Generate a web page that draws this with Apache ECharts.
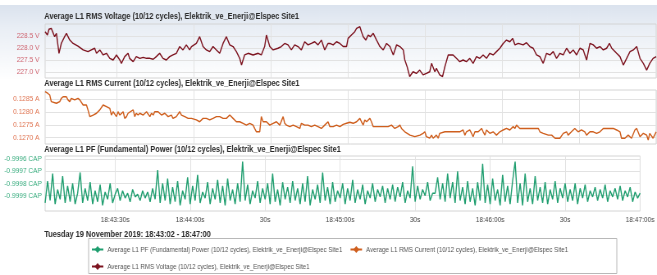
<!DOCTYPE html>
<html><head><meta charset="utf-8">
<script src="https://cdn.jsdelivr.net/npm/echarts@6/dist/echarts.min.js"></script>
<style>
html,body{margin:0;padding:0;background:#fff;overflow:hidden;width:657px;height:275px}
#c{width:801px;height:275px;transform:scaleX(0.8202);transform-origin:0 0}
</style>
</head><body><div id="c"></div>
<script>
// ---- DATA ----
const panelTitles = [
  'Average L1 RMS Voltage (10/12 cycles), Elektrik_ve_Enerji@Elspec Site1',
  'Average L1 RMS Current (10/12 cycles), Elektrik_ve_Enerji@Elspec Site1',
  'Average L1 PF (Fundamental) Power (10/12 cycles), Elektrik_ve_Enerji@Elspec Site1'
];
const dateText = 'Tuesday 19 November 2019: 18:43:02 - 18:47:00';
// seconds after 18:43:02
const timeTickSec = [28, 58, 88, 118, 148, 178, 208, 238];
const timeTickLabels = ['18:43:30s', '18:44:00s', '30s', '18:45:00s', '30s', '18:46:00s', '30s', '18:47:00s'];
const voltageTicks = [227.0, 227.5, 228.0, 228.5];
const currentTicks = [0.1270, 0.1275, 0.1280, 0.1285];
const pfTicks = [-0.9999, -0.9998, -0.9997, -0.9996];

const voltage = [[0,228.68],[0.9,228.54],[1.5,228.78],[2.4,228.82],[3.7,228.47],[4.4,228.61],[5.4,227.78],[6.3,228.19],[7.6,228.47],[8.3,228.61],[9.6,228.33],[10.9,228.19],[12.8,228.08],[14.8,227.92],[16.7,227.85],[18.0,227.92],[19.3,227.99],[20.0,227.78],[21.3,227.92],[22.6,227.71],[23.9,227.78],[25.2,227.57],[26.5,227.50],[27.8,227.71],[29.1,227.50],[29.7,227.36],[31.0,227.64],[32.3,227.78],[32.9,227.57],[34.3,227.43],[35.5,227.64],[36.9,227.57],[38.2,227.61],[39.5,227.57],[40.8,227.57],[42.1,227.53],[43.3,227.64],[44.6,227.78],[45.9,227.57],[47.2,227.50],[48.5,227.64],[49.8,227.71],[51.1,227.78],[52.4,228.06],[53.7,227.92],[55.0,228.13],[56.3,227.92],[57.0,228.06],[58.9,228.19],[60.2,228.47],[61.5,228.06],[62.8,227.92],[64.1,227.85],[65.4,228.06],[66.7,227.92],[68.0,227.78],[69.3,228.19],[70.6,228.47],[71.9,228.13],[73.2,228.06],[74.5,227.85],[75.8,227.57],[76.5,227.29],[77.7,227.71],[79.1,227.78],[81.0,227.71],[83.0,227.78],[84.2,227.71],[85.5,228.06],[86.2,228.54],[87.5,228.06],[88.8,227.92],[90.7,227.99],[92.0,228.06],[93.3,228.19],[94.6,228.13],[95.9,227.92],[97.2,228.13],[98.5,228.06],[99.8,227.92],[101.1,228.26],[102.4,228.13],[103.7,228.19],[105.0,228.26],[106.3,228.13],[107.6,228.33],[108.9,227.92],[110.2,228.19],
[110.9,228.19],[112.2,228.13],[113.5,228.26],[114.8,228.19],[116.1,228.06],[117.4,228.06],[118.0,228.40],[119.3,228.54],[120.6,228.68],[121.3,228.82],[121.9,228.75],[122.6,228.89],[123.2,228.68],[123.9,228.47],[124.9,228.33],[125.8,228.54],[126.7,228.47],[127.8,228.61],[129.1,228.33],[130.4,228.06],[131.7,227.92],[133.0,228.19],[134.3,228.06],[135.6,227.71],[136.9,228.13],[138.2,228.06],[139.5,227.92],[140.1,227.50],[141.0,227.22],[142.0,226.81],[143.3,227.01],[144.6,226.94],[145.9,227.08],[147.2,226.88],[148.5,226.94],[149.8,227.01],[150.5,227.36],[151.8,227.01],[152.4,227.15],[153.7,226.88],[154.8,226.81],[155.7,227.22],[157.0,227.71],[157.6,227.78],[158.9,227.71],[160.2,227.57],[161.5,227.43],[162.8,227.50],[164.1,227.43],[165.4,227.57],[166.7,227.36],[168.0,227.64],[169.3,227.57],[170.6,227.71],[171.9,227.57],[173.2,227.78],[174.5,227.71],[175.8,227.85],[177.1,227.99],[178.4,228.19],[179.7,228.33],[181.0,228.26],[182.1,228.40],[183.0,228.13],[184.3,228.19],[186.2,228.13],[187.5,228.22],[188.8,228.06],[190.1,227.99],[191.4,227.71],[192.7,227.64],[194.0,227.36],[195.3,227.78],[196.6,227.71],[197.9,227.85],[199.2,227.57],[200.5,227.78],[201.8,227.71],[203.1,227.99],[204.4,227.78],[205.7,227.92],[207.0,227.71],[208.3,227.99],[209.6,227.92],[210.9,227.50],[212.2,228.19],[213.5,228.13],[214.8,227.99],[216.1,228.06],[217.4,227.92],[218.7,227.99],[219.8,228.19],[220.7,227.99],[222.6,227.78],[223.9,227.64],[225.2,227.29],[226.5,227.57],[227.8,227.85],[229.1,227.92],[230.4,228.06],[231.7,227.57],[233.0,227.36],[234.3,227.08],[235.5,227.36],[236.8,227.57],[238.0,227.64]];

const current = [[0,0.12879],[1.1,0.12872],[1.8,0.12866],[2.4,0.12840],[4.4,0.12834],[5.7,0.12840],[6.3,0.12853],[7.0,0.12859],[8.3,0.12859],[8.9,0.12847],[9.6,0.12840],[10.2,0.12853],[11.5,0.12847],[12.8,0.12853],[13.5,0.12847],[14.8,0.12827],[16.1,0.12827],[16.7,0.12808],[17.4,0.12782],[18.0,0.12788],[18.7,0.12788],[20.0,0.12795],[20.6,0.12801],[21.3,0.12808],[21.9,0.12814],[22.6,0.12827],[23.9,0.12821],[25.2,0.12814],[25.8,0.12788],[26.5,0.12801],[27.1,0.12795],[27.8,0.12782],[28.4,0.12801],[29.1,0.12788],[29.7,0.12795],[30.4,0.12801],[31.0,0.12775],[31.7,0.12782],[32.3,0.12795],[32.9,0.12788],[34.3,0.12808],[34.9,0.12782],[35.5,0.12795],[36.2,0.12788],[36.9,0.12795],[38.2,0.12788],[39.5,0.12801],[40.8,0.12782],[41.4,0.12795],[42.1,0.12788],[42.7,0.12801],[44.0,0.12801],[45.3,0.12788],[45.9,0.12782],[46.6,0.12795],[47.9,0.12782],[49.2,0.12788],[49.8,0.12775],[51.1,0.12782],[52.4,0.12801],[53.1,0.12788],[54.4,0.12782],[55.7,0.12775],[57.0,0.12775],[58.9,0.12769],[60.2,0.12762],[61.5,0.12775],[62.8,0.12775],[64.1,0.12769],[65.4,0.12775],[66.7,0.12782],[68.0,0.12782],[69.3,0.12775],[70.6,0.12775],[71.9,0.12788],[73.2,0.12775],[74.5,0.12762],[75.8,0.12762],[77.1,0.12756],[78.4,0.12749],[79.7,0.12756],[81.0,0.12749],[81.6,0.12736],[82.3,0.12723],[83.6,0.12723],[84.2,0.12782],[84.9,0.12762],[86.2,0.12762],[87.5,0.12749],[88.8,0.12756],[90.1,0.12762],[91.4,0.12749],[92.7,0.12782],[93.3,0.12756],[94.0,0.12749],[95.3,0.12743],[96.6,0.12749],[97.9,0.12743],[99.2,0.12736],[99.8,0.12756],[101.1,0.12749],[102.4,0.12749],[103.7,0.12743],[105.0,0.12749],[106.3,0.12743],[107.6,0.12736],[108.9,0.12749],[110.2,0.12762],
[110.9,0.12743],[112.2,0.12743],[113.5,0.12749],[114.8,0.12743],[116.1,0.12752],[117.4,0.12756],[118.7,0.12760],[120.0,0.12756],[121.3,0.12762],[122.6,0.12775],[123.2,0.12762],[123.9,0.12749],[124.5,0.12769],[125.2,0.12762],[126.5,0.12775],[127.1,0.12762],[127.8,0.12743],[129.7,0.12743],[131.7,0.12743],[133.6,0.12743],[134.9,0.12749],[136.2,0.12736],[137.5,0.12743],[138.2,0.12749],[138.8,0.12736],[140.1,0.12723],[142.1,0.12710],[144.0,0.12704],[146.0,0.12710],[147.2,0.12717],[147.9,0.12723],[148.5,0.12704],[149.8,0.12698],[150.5,0.12710],[151.1,0.12698],[152.4,0.12710],[153.1,0.12698],[153.7,0.12717],[155.7,0.12723],[157.6,0.12723],[159.6,0.12723],[161.5,0.12723],[162.8,0.12730],[163.5,0.12710],[164.1,0.12723],[165.4,0.12730],[166.1,0.12717],[166.7,0.12704],[167.4,0.12723],[168.7,0.12723],[170.0,0.12736],[170.6,0.12723],[171.3,0.12710],[171.9,0.12730],[173.2,0.12717],[174.5,0.12723],[175.8,0.12710],[177.1,0.12723],[178.4,0.12730],[179.7,0.12736],[181.0,0.12730],[182.3,0.12743],[183.0,0.12736],[183.6,0.12749],[184.9,0.12736],[187.5,0.12736],[190.1,0.12736],[192.1,0.12736],[192.7,0.12723],[194.0,0.12717],[196.0,0.12710],[197.3,0.12710],[198.6,0.12698],[199.2,0.12691],[200.5,0.12698],[201.8,0.12717],[203.1,0.12723],[203.7,0.12710],[205.0,0.12723],[206.3,0.12736],[207.6,0.12723],[208.9,0.12730],[210.2,0.12723],[210.9,0.12710],[212.2,0.12723],[213.5,0.12723],[214.8,0.12717],[216.1,0.12723],[217.4,0.12736],[218.0,0.12743],[219.3,0.12736],[221.3,0.12736],[222.6,0.12730],[223.9,0.12723],[224.5,0.12698],[225.8,0.12698],[227.1,0.12710],[228.4,0.12698],[229.7,0.12730],[230.4,0.12736],[231.7,0.12704],[233.0,0.12717],[234.3,0.12710],[234.9,0.12691],[235.5,0.12717],[236.8,0.12698],[238.0,0.12723]];

// power factor, one reading per second from 18:43:02
const pfStepSec = 1;
const pfValues = [
-0.99996,-0.99978,-0.99994,-0.99972,-0.99997,-0.99985,-0.99993,-0.99974,-0.99996,-0.99982,
-0.99995,-0.99980,-0.99997,-0.99988,-0.99971,-0.99996,-0.99984,-0.99994,-0.99979,-0.99997,
-0.99986,-0.99995,-0.99981,-0.99998,-0.99987,-0.99993,-0.99980,-0.99996,-0.99989,-0.99984,
-0.99994,-0.99986,-0.99992,-0.99988,-0.99995,-0.99985,-0.99991,-0.99989,-0.99994,-0.99986,
-0.99992,-0.99987,-0.99995,-0.99984,-0.99993,-0.99969,-0.99996,-0.99980,-0.99994,-0.99976,
-0.99997,-0.99983,-0.99995,-0.99978,-0.99998,-0.99986,-0.99993,-0.99975,-0.99997,-0.99982,
-0.99994,-0.99973,-0.99996,-0.99987,-0.99992,-0.99979,-0.99997,-0.99984,-0.99993,-0.99977,
-0.99996,-0.99982,-0.99998,-0.99976,-0.99994,-0.99985,-0.99997,-0.99980,-0.99995,-0.99962,
-0.99994,-0.99981,-0.99997,-0.99986,-0.99992,-0.99978,-0.99996,-0.99984,-0.99993,-0.99980,
-0.99997,-0.99972,-0.99995,-0.99985,-0.99998,-0.99979,-0.99993,-0.99983,-0.99996,-0.99978,
-0.99994,-0.99984,-0.99997,-0.99980,-0.99995,-0.99974,-0.99998,-0.99985,-0.99993,-0.99981,
-0.99996,-0.99971,-0.99994,-0.99983,-0.99997,-0.99979,-0.99995,-0.99986,-0.99992,-0.99980,
-0.99997,-0.99984,-0.99994,-0.99977,-0.99996,-0.99985,-0.99993,-0.99981,-0.99997,-0.99986,
-0.99992,-0.99980,-0.99995,-0.99985,-0.99991,-0.99982,-0.99996,-0.99984,-0.99993,-0.99981,
-0.99995,-0.99983,-0.99991,-0.99979,-0.99996,-0.99986,-0.99992,-0.99966,-0.99995,-0.99982,
-0.99993,-0.99985,-0.99990,-0.99979,-0.99994,-0.99988,-0.99988,-0.99975,-0.99993,-0.99980,
-0.99995,-0.99972,-0.99992,-0.99979,-0.99996,-0.99970,-0.99994,-0.99983,-0.99997,-0.99978,
-0.99995,-0.99984,-0.99998,-0.99979,-0.99994,-0.99964,-0.99996,-0.99981,-0.99997,-0.99976,
-0.99994,-0.99985,-0.99998,-0.99973,-0.99995,-0.99982,-0.99997,-0.99978,-0.99962,-0.99996,
-0.99980,-0.99998,-0.99972,-0.99995,-0.99984,-0.99997,-0.99974,-0.99994,-0.99983,-0.99996,
-0.99979,-0.99997,-0.99985,-0.99993,-0.99978,-0.99996,-0.99984,-0.99992,-0.99980,-0.99995,
-0.99985,-0.99994,-0.99980,-0.99997,-0.99984,-0.99992,-0.99981,-0.99995,-0.99986,-0.99991,
-0.99983,-0.99994,-0.99985,-0.99992,-0.99981,-0.99995,-0.99986,-0.99991,-0.99984,-0.99993,
-0.99982,-0.99994,-0.99986,-0.99991,-0.99983,-0.99995,-0.99987,-0.99992,-0.99988
];

// ---- CHART ----
// The chart is laid out on an 801px-wide canvas that CSS compresses horizontally to 657px.
const F = "'Liberation Sans',Arial,sans-serif";
const colors = ['#7d1420', '#cf5f1e', '#1f9e6f'];
const labelColors = ['#cf6470', '#e07552', '#3bae80'];
const seriesNames = panelTitles;
const pfData = pfValues.map((v, i) => [i * pfStepSec, v]);
const seriesData = [voltage, current, pfData];
const yTicks = [voltageTicks, currentTicks, pfTicks];
const yRanges = [[226.75, 229.0], [0.126755, 0.128854], [-1.000026, -0.999575]];
const yFmt = [v => v.toFixed(1) + ' V', v => v.toFixed(4) + ' A', v => v.toFixed(4) + ' CAP'];
const gridBoxes = [{top: 24, height: 54}, {top: 90, height: 54}, {top: 156, height: 55}];
const titleTops = [12.5, 79, 145.5];

const chart = echarts.init(document.getElementById('c'));
const option = {
  animation: false,
  backgroundColor: '#fff',
  graphic: [
    {type: 'rect', z: -10, shape: {x: 0, y: 5, width: 801, height: 75},
     style: {fill: new echarts.graphic.LinearGradient(0, 0, 0, 1, [
       {offset: 0, color: '#dbe3ee'}, {offset: 0.3, color: '#e9eef5'}, {offset: 1, color: '#ffffff'}])}},
    {type: 'rect', z: 1, shape: {x: 108, y: 238.5, width: 644, height: 35},
     style: {fill: 'none', stroke: '#b8b8b8', lineWidth: 1}}
  ],
  title: panelTitles.map((t, i) => ({
    text: t, left: 54, top: titleTops[i], padding: 0,
    textStyle: {fontSize: 9, fontWeight: 'bold', color: '#2b2b2b', fontFamily: F}
  })).concat([{
    text: dateText, left: 54, top: 230, padding: 0,
    textStyle: {fontSize: 9, fontWeight: 'bold', color: '#2b2b2b', fontFamily: F}
  }]),
  legend: {
    left: 111, top: 245.5, width: 630, padding: 0,
    itemWidth: 14, itemHeight: 9, itemGap: 9,
    textStyle: {fontSize: 7.5, color: '#555', fontFamily: F},
    data: [seriesNames[2], seriesNames[1], seriesNames[0]]
  },
  grid: gridBoxes.map(g => ({left: 55, right: 1, top: g.top, height: g.height, show: true,
    borderColor: '#d4d4d4', borderWidth: 1, backgroundColor: 'transparent'})),
  xAxis: [0, 1, 2].map(i => ({
    type: 'value', gridIndex: i, min: 0, max: 238,
    axisLine: {show: false},
    axisTick: {show: false, customValues: timeTickSec},
    axisLabel: {show: i === 2, customValues: timeTickSec, margin: 5,
      formatter: v => timeTickLabels[timeTickSec.indexOf(Math.round(v))] || '',
      fontSize: 8, color: '#444', fontFamily: F},
    splitLine: {show: true, lineStyle: {color: '#e2e2e2', width: 1}}
  })),
  yAxis: [0, 1, 2].map(i => ({
    type: 'value', gridIndex: i, min: yRanges[i][0], max: yRanges[i][1], scale: true,
    axisLine: {show: false},
    axisTick: {show: false, customValues: yTicks[i]},
    axisLabel: {customValues: yTicks[i], formatter: yFmt[i], margin: i === 2 ? 4 : 7,
      fontSize: 8, color: labelColors[i], fontFamily: F},
    splitLine: {show: true, lineStyle: {color: '#e2e2e2', width: 1}}
  })),
  series: [0, 1, 2].map(i => ({
    name: seriesNames[i], type: 'line', xAxisIndex: i, yAxisIndex: i,
    data: seriesData[i], showSymbol: false, symbol: 'diamond', symbolSize: 7,
    color: colors[i], lineStyle: {width: 1.4, color: colors[i]}, z: 3
  }))
};
chart.setOption(option);
</script></body></html>
